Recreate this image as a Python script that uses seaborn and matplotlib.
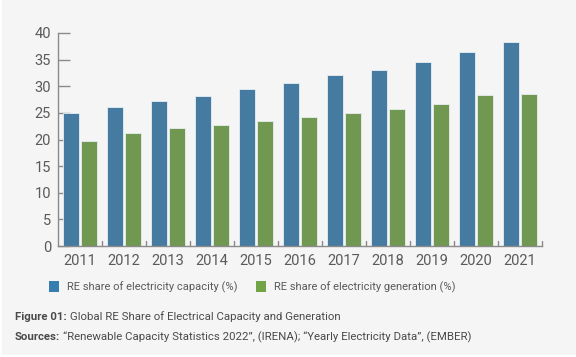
import matplotlib
matplotlib.use("Agg")
import matplotlib.pyplot as plt
from matplotlib.patches import Rectangle, Patch
import pandas as pd
import seaborn as sns

years = ["2011", "2012", "2013", "2014", "2015", "2016", "2017", "2018", "2019", "2020", "2021"]
capacity_share = [25.0, 26.1, 27.3, 28.2, 29.5, 30.7, 32.2, 33.1, 34.6, 36.4, 38.4]
generation_share = [19.8, 21.3, 22.1, 22.7, 23.4, 24.2, 25.0, 25.7, 26.6, 28.4, 28.5]
series_names = ["RE share of electricity capacity (%)", "RE share of electricity generation (%)"]

BLUE = "#377eb0"
GREEN = "#70a445"
TEXT = "#5a5a5a"
CAPTION = "#4a4a4a"
BG = "#f5f5f5"

df = pd.DataFrame({
    "year": years * 2,
    "value": capacity_share + generation_share,
    "series": [series_names[0]] * len(years) + [series_names[1]] * len(years),
})

sns.set_style("white")
plt.rcParams["font.family"] = ["Roboto", "DejaVu Sans"]

fig = plt.figure(figsize=(5.76, 3.57), dpi=100, facecolor="white")
fig.patches.append(Rectangle((0.004, 0.006), 0.996, 0.994, transform=fig.transFigure,
                             facecolor=BG, edgecolor="none", zorder=-10))
ax = fig.add_axes([58 / 576, 1 - 246 / 357, 484 / 576, 213 / 357])
ax.set_facecolor(BG)

sns.barplot(data=df, x="year", y="value", hue="series", order=years, hue_order=series_names,
            palette=[BLUE, GREEN], width=0.8, gap=0.09, edgecolor="#e8eef3", linewidth=0.6,
            legend=False, ax=ax)

ax.set_xlim(-0.5, len(years) - 0.5)
ax.set_ylim(0, 40)
ax.set_yticks(range(0, 41, 5))
ax.set_xlabel("")
ax.set_ylabel("")

for side in ["top", "right"]:
    ax.spines[side].set_visible(False)
for side in ["left", "bottom"]:
    ax.spines[side].set_color("#8a8a8a")
    ax.spines[side].set_linewidth(1.0)

ax.tick_params(axis="y", direction="in", length=8.5, width=1.0, color="#8a8a8a",
               labelsize=10.5, labelcolor=TEXT, pad=5, left=True)
ax.tick_params(axis="x", length=0, labelsize=10.5, labelcolor=TEXT, pad=6, bottom=True)

# small boundary ticks between year groups
for i in range(1, len(years) + 1):
    ax.plot([i - 0.5, i - 0.5], [0, 0.9], color="#8a8a8a", lw=1.0, clip_on=False)

handles = [Patch(facecolor=BLUE, edgecolor="none"), Patch(facecolor=GREEN, edgecolor="none")]
fig.legend(handles, series_names, loc="center left", bbox_to_anchor=(39 / 576, 1 - 287 / 357),
           ncol=2, frameon=False, fontsize=8, labelcolor=TEXT,
           handlelength=0.9, handleheight=1.1, handletextpad=0.75, columnspacing=1.6)

# caption: bold lead-in followed by regular text
fig.canvas.draw()
renderer = fig.canvas.get_renderer()
caption_rows = [("Figure 01:", "Global RE Share of Electrical Capacity and Generation", 317),
                ("Sources:", "\u201cRenewable Capacity Statistics 2022\u201d, (IRENA); "
                             "\u201cYearly Electricity Data\u201d, (EMBER)", 337)]
for lead, rest, ypix in caption_rows:
    t = fig.text(15 / 576, 1 - ypix / 357, lead, fontsize=8.2, fontweight="bold",
                 color=CAPTION, va="center", ha="left")
    bb = t.get_window_extent(renderer)
    fig.text((bb.x1 + 3) / 576, 1 - ypix / 357, rest, fontsize=8.2,
             color=CAPTION, va="center", ha="left")

fig.savefig("out.png", dpi=100, facecolor=fig.get_facecolor())
